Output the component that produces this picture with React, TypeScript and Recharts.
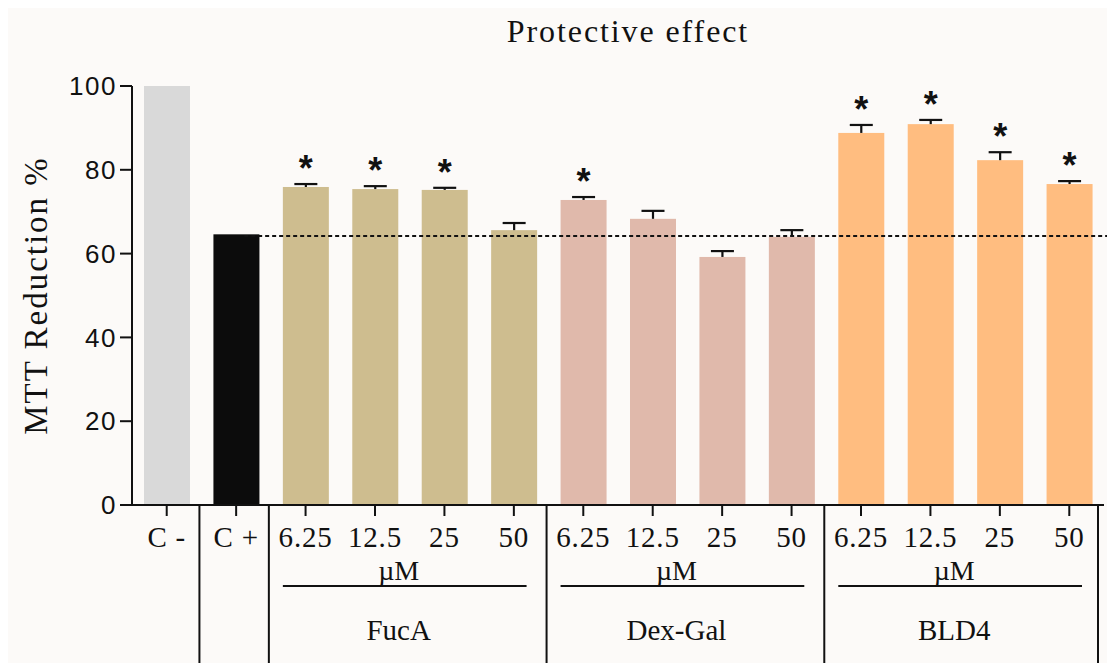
import React from 'react';
import { BarChart, Bar, XAxis, YAxis, ReferenceLine } from 'recharts';

// categories along the x axis (dose labels) and the group each belongs to
const barKeys = ['C-', 'C+', 'FucA-6.25', 'FucA-12.5', 'FucA-25', 'FucA-50', 'Dex-6.25', 'Dex-12.5', 'Dex-25', 'Dex-50', 'BLD4-6.25', 'BLD4-12.5', 'BLD4-25', 'BLD4-50'];
const doseLabels = ['C -', 'C +', '6.25', '12.5', '25', '50', '6.25', '12.5', '25', '50', '6.25', '12.5', '25', '50'];
const groupOf = ['C-', 'C+', 'FucA', 'FucA', 'FucA', 'FucA', 'Dex-Gal', 'Dex-Gal', 'Dex-Gal', 'Dex-Gal', 'BLD4', 'BLD4', 'BLD4', 'BLD4'];
const groupNames = ['FucA', 'Dex-Gal', 'BLD4'];

// MTT reduction (%) mean and SD (upper error only)
const mttMean = [100, 64.6, 75.9, 75.4, 75.2, 65.6, 72.8, 68.3, 59.2, 64.0, 88.8, 90.9, 82.3, 76.6];
const mttSd = [0, 0, 0.7, 0.7, 0.5, 1.7, 0.7, 1.9, 1.4, 1.6, 1.9, 1.0, 1.9, 0.7];
const significant = [false, false, true, true, true, false, true, false, false, false, true, true, true, true];

const yTicks = [0, 20, 40, 60, 80, 100];
const controlLevel = 64.2;

const groupColors: Record<string, string> = {
  'C-': '#d9d9d9',
  'C+': '#0c0c0c',
  FucA: '#cebd8f',
  'Dex-Gal': '#e0b9ab',
  BLD4: '#ffbd80',
};

const data = barKeys.map((key, i) => ({
  key,
  mean: mttMean[i],
  sd: mttSd[i],
  sig: significant[i],
  group: groupOf[i],
}));

const SERIF = '"Liberation Serif", "Times New Roman", serif';
const SANS = '"Liberation Sans", Arial, sans-serif';
const INK = '#111';

const CHART_W = 1107;
const CHART_H = 655;
const MARGIN = { top: 78, right: 11, left: 0, bottom: 0 };
const YAXIS_W = 124;
const XAXIS_H = 158;
const PLOT_W = CHART_W - MARGIN.left - MARGIN.right - YAXIS_W;
const BAND = PLOT_W / barKeys.length;
const AXIS_Y = CHART_H - MARGIN.bottom - XAXIS_H;

function BarWithError(props: any) {
  const { x, y, width, height, payload } = props;
  const fill = groupColors[payload.group];
  const k = payload.mean ? height / payload.mean : 0;
  const capY = y - payload.sd * k;
  const cx = x + width / 2;
  return (
    <g>
      <rect x={x} y={y} width={width} height={height} fill={fill} />
      {payload.sd > 0 && (
        <g stroke={INK} strokeWidth={2.2}>
          <line x1={cx} x2={cx} y1={y} y2={capY} />
          <line x1={cx - 11.5} x2={cx + 11.5} y1={capY} y2={capY} />
        </g>
      )}
      {payload.sig && (
        <text x={cx} y={capY - 3} textAnchor="middle" fontFamily={SANS} fontWeight="bold" fontSize={36} fill={INK}>
          *
        </text>
      )}
    </g>
  );
}

function GroupTick(props: any) {
  const { x, index } = props;
  const i = index;
  const half = BAND / 2;
  const g = groupOf[i];
  const isStart = i > 0 && groupOf[i - 1] !== g;
  const isLast = i === barKeys.length - 1;
  const bottom = CHART_H;
  const parts: React.ReactNode[] = [];

  parts.push(
    <text key="lbl" x={x} y={AXIS_Y + 42} textAnchor="middle" fontFamily={SERIF} fontSize={29} letterSpacing={0.8} fill={INK}>
      {doseLabels[i]}
    </text>
  );
  if (isStart) {
    parts.push(<line key="sep" x1={x - half - 2} x2={x - half - 2} y1={AXIS_Y} y2={bottom} stroke={INK} strokeWidth={2} />);
  }
  if (isLast) {
    parts.push(<line key="sepR" x1={x + half - 6} x2={x + half - 6} y1={AXIS_Y} y2={bottom} stroke={INK} strokeWidth={2} />);
  }
  if (isStart && groupNames.includes(g)) {
    const gStart = x - half;
    const gEnd = gStart + 4 * BAND;
    const l1 = gStart + 12;
    const l2 = gEnd - 22;
    const mid = (l1 + l2) / 2;
    parts.push(
      <text key="um" x={mid - 6} y={AXIS_Y + 75} textAnchor="middle" fontFamily={SERIF} fontSize={28} fill={INK}>
        µM
      </text>
    );
    parts.push(<line key="uml" x1={l1} x2={l2} y1={AXIS_Y + 81} y2={AXIS_Y + 81} stroke={INK} strokeWidth={2} />);
    parts.push(
      <text key="gn" x={mid - 6} y={AXIS_Y + 135} textAnchor="middle" fontFamily={SERIF} fontSize={29} fill={INK}>
        {g}
      </text>
    );
  }
  return <g>{parts}</g>;
}

function YLabel(props: any) {
  const { viewBox } = props;
  const cx = viewBox.x + 28;
  const cy = viewBox.y + viewBox.height / 2;
  return (
    <text
      x={cx}
      y={cy}
      transform={`rotate(-90, ${cx}, ${cy})`}
      textAnchor="middle"
      dominantBaseline="central"
      fontFamily={SERIF}
      fontSize={33}
      letterSpacing={2}
      fill={INK}
    >
      MTT Reduction %
    </text>
  );
}

export default function App() {
  return (
    <div style={{ position: 'relative', width: CHART_W, height: CHART_H, background: '#fcfaf8' }}>
      <div
        style={{
          position: 'absolute',
          left: 420,
          top: 7,
          width: 400,
          textAlign: 'center',
          fontFamily: SERIF,
          fontSize: 32,
          lineHeight: '32px',
          letterSpacing: 1.9,
          color: INK,
        }}
      >
        Protective effect
      </div>
      <BarChart width={CHART_W} height={CHART_H} data={data} margin={MARGIN}>
        <XAxis
          dataKey="key"
          height={XAXIS_H}
          interval={0}
          tickSize={11}
          tickMargin={0}
          axisLine={{ stroke: INK, strokeWidth: 2 }}
          tickLine={{ stroke: INK, strokeWidth: 2 }}
          tick={(p: any) => <GroupTick {...p} />}
        />
        <XAxis xAxisId="n" type="number" domain={[0, barKeys.length]} hide allowDataOverflow />
        <YAxis
          domain={[0, 100]}
          ticks={yTicks}
          interval={0}
          width={YAXIS_W}
          tickSize={12}
          tickMargin={3}
          allowDataOverflow
          axisLine={{ stroke: INK, strokeWidth: 2 }}
          tickLine={{ stroke: INK, strokeWidth: 2 }}
          tick={{ fill: INK, fontSize: 26, fontFamily: SANS, letterSpacing: 1.5 }}
          label={<YLabel />}
        />
        <Bar dataKey="mean" barSize={46} shape={(p: any) => <BarWithError {...p} />} isAnimationActive={false} />
        <ReferenceLine
          xAxisId="n"
          segment={[
            { x: 1.5, y: controlLevel },
            { x: barKeys.length + 0.16, y: controlLevel },
          ]}
          stroke={INK}
          strokeWidth={2}
          strokeDasharray="4 3"
          ifOverflow="visible"
        />
      </BarChart>
    </div>
  );
}
